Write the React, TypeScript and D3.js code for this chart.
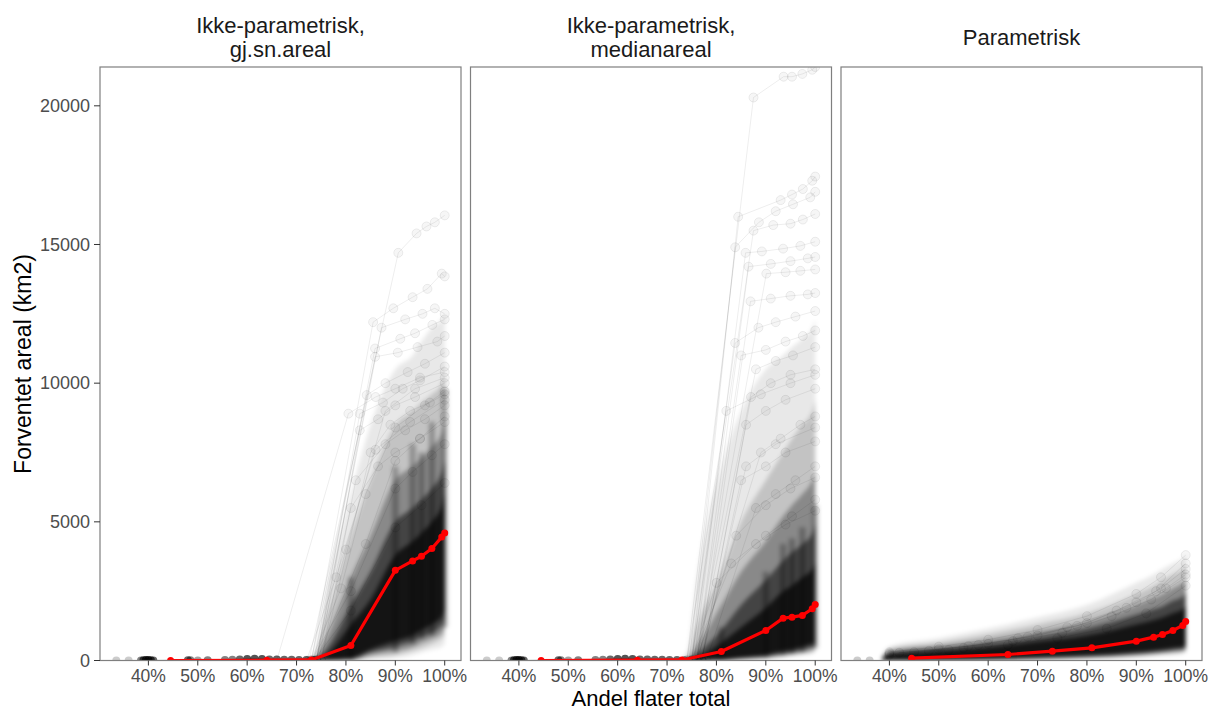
import React from "react";
import * as d3 from "d3";

const W = 1211;
const H = 711;
const fontFamily = "'Liberation Sans', Arial, Helvetica, sans-serif";

// layout
const panelLeft = [100, 470.5, 841];
const panelW = 361;
const panelTop = 67;
const panelBottom = 660.5;

// data
const xTicks = [40, 50, 60, 70, 80, 90, 100];
const yTicks = [0, 5000, 10000, 15000, 20000];

const titleGjsn = ["Ikke-parametrisk,", "gj.sn.areal"];
const titleMedian = ["Ikke-parametrisk,", "medianareal"];
const titleParam = ["Parametrisk"];

// red mean line
const meanX = [44.5, 64, 73, 81, 90, 93.5, 95.3, 97.4, 99.4, 100];
const meanGjsn = [0, 10, 20, 540, 3250, 3590, 3760, 4040, 4450, 4600];
const meanMedian = [0, 10, 20, 325, 1083, 1527, 1563, 1625, 1866, 2022];
const meanParam = [83, 217, 336, 458, 697, 841, 939, 1083, 1264, 1408];

// simulations that sit at ~0 before the jump
const baseX = [33.5, 36, 38.5, 39, 39.5, 40, 40.5, 41, 48, 48.5, 50, 52, 55.5, 57, 58.5, 60, 61.5, 63, 64.5, 66, 67.5, 69, 70.5, 72, 73.5];
const baseCountNonpar = [1, 1, 3, 5, 6, 6, 5, 4, 4, 3, 2, 3, 3, 3, 4, 5, 5, 5, 4, 4, 4, 4, 4, 4, 3];
const baseYNonpar = [0, 0, 0, 10, 20, 20, 10, 0, 10, 10, 0, 10, 20, 30, 40, 50, 60, 50, 40, 40, 30, 30, 20, 20, 10];
const baseXParam = [33.5, 36];
const baseCountParam = [1, 1];
const baseYParam = [0, 0];

// density of the simulation cloud: [low, high] per level, outer -> core
const bandXGjsn = [72, 73.5, 76, 81, 85, 90, 93.5, 95.3, 97.4, 99.4, 100];
const bandsGjsn = [
  [[0, 0, 0, 0, 50, 100, 200, 300, 400, 500, 600], [0, 200, 2500, 6000, 8500, 10500, 11000, 11500, 12000, 12300, 12500]],
  [[0, 0, 0, 0, 100, 200, 350, 450, 600, 800, 900], [0, 100, 1500, 4500, 6500, 8500, 9000, 9300, 9600, 10000, 10300]],
  [[0, 0, 0, 20, 200, 350, 500, 650, 800, 1000, 1200], [0, 50, 800, 3000, 4500, 6500, 7000, 7300, 7700, 8200, 8600]],
  [[0, 0, 0, 50, 300, 500, 700, 850, 1000, 1300, 1500], [0, 20, 400, 2000, 3200, 5000, 5500, 5800, 6200, 6800, 7200]],
  [[0, 0, 0, 80, 400, 700, 900, 1100, 1300, 1600, 1800], [0, 0, 200, 1300, 2200, 3800, 4300, 4600, 5000, 5600, 6000]],
];

const bandXMedian = [72, 74, 76, 81, 85, 90, 93.5, 95.3, 97.4, 99.4, 100];
const bandsMedian = [
  [[0, 0, 0, 0, 0, 50, 100, 150, 200, 250, 300], [0, 300, 3000, 7000, 9000, 10500, 11000, 11300, 11600, 12000, 12300]],
  [[0, 0, 0, 0, 30, 80, 150, 200, 250, 300, 350], [0, 100, 1200, 3200, 5000, 6500, 7500, 8000, 8500, 9000, 9400]],
  [[0, 0, 0, 0, 50, 100, 200, 250, 300, 400, 450], [0, 50, 500, 2000, 3200, 4300, 5200, 5600, 6000, 6500, 6800]],
  [[0, 0, 0, 10, 80, 150, 250, 300, 400, 500, 550], [0, 20, 250, 1100, 2000, 2900, 3600, 3900, 4200, 4600, 4900]],
  [[0, 0, 0, 20, 100, 200, 350, 400, 500, 600, 650], [0, 0, 100, 650, 1200, 1900, 2500, 2700, 3000, 3300, 3500]],
];

const bandXParam = [38.5, 40, 50, 60, 70, 80, 90, 93.5, 95.3, 97.4, 99.4, 100];
const bandsParam = [
  [[0, 0, 0, 0, 20, 50, 100, 150, 180, 200, 250, 280], [150, 500, 800, 1150, 1550, 2000, 2800, 3100, 3300, 3500, 3700, 3800]],
  [[0, 0, 0, 10, 40, 80, 150, 200, 230, 260, 300, 330], [120, 420, 650, 950, 1300, 1700, 2400, 2700, 2900, 3100, 3300, 3400]],
  [[0, 0, 0, 20, 60, 110, 200, 250, 280, 320, 360, 400], [100, 350, 520, 750, 1050, 1400, 2000, 2250, 2400, 2600, 2800, 2900]],
  [[0, 0, 10, 30, 80, 140, 250, 300, 330, 380, 420, 450], [80, 280, 420, 600, 850, 1150, 1650, 1850, 1950, 2150, 2300, 2450]],
  [[0, 10, 20, 50, 110, 180, 300, 360, 400, 450, 500, 530], [60, 220, 330, 470, 680, 900, 1300, 1450, 1550, 1700, 1850, 1950]],
];

// vertical streaks where many simulations share the same x
const streakX = [81, 90, 93.5, 95.3, 97.4, 100];
const streakGjsn = [[0, 3000], [300, 7000], [600, 7800], [800, 7500], [900, 8600], [1200, 9800]];
const streakMedian = [[0, 1200], [100, 3200], [200, 4200], [250, 4400], [300, 4800], [450, 5600]];
const streakParam: number[][] = [];

// single simulations that stand out above the cloud, [x %, km2]
const linesGjsn = [
  [[72.5, 0], [90.6, 14700], [94.3, 15400], [96.3, 15650], [98, 15800], [100, 16050]],
  [[73, 0], [85.5, 12200], [89.6, 12700], [93.5, 13100], [96.5, 13400], [99.4, 13950], [100, 13850]],
  [[74, 0], [87.2, 12000], [92, 12300], [95.5, 12500], [98, 12700], [100, 12500]],
  [[73.5, 0], [85.9, 11250], [91, 11600], [94, 11800], [97.5, 12100], [100, 12300]],
  [[74, 0], [85.9, 10950], [90.5, 11100], [94.5, 11300], [98.5, 11500], [100, 11700]],
  [[73, 0], [84.2, 9570], [88, 10000], [92.5, 10400], [96, 10700], [100, 11100]],
  [[74, 0], [82.8, 8900], [87.5, 9300], [91.5, 9800], [95, 10100], [100, 10600]],
  [[74.5, 0], [82.8, 8300], [86.5, 8700], [90, 9200], [94, 9500], [100, 10000]],
  [[75, 0], [85, 7500], [89, 8500], [93, 9000], [97, 9300], [100, 9600]],
  [[75, 0], [82, 6500], [88, 7800], [92, 8300], [96, 8700], [100, 9200]],
  [[74, 0], [81, 5500], [86.5, 7000], [90, 7500], [95, 8000], [100, 8600]],
  [[66, 0], [80.5, 8900], [86, 9500], [90, 9800], [95, 10200], [100, 10400]],
  [[73, 0], [81, 2500], [90, 6200], [93.5, 6800], [97.4, 7400], [100, 7800]],
  [[73.5, 0], [81, 1800], [90, 4800], [95.3, 5600], [100, 6400]],
  [[74, 0], [84, 4200], [90, 7200], [95, 8000], [100, 8800]],
  [[72, 0], [78, 3000], [86, 7600], [93, 8600], [100, 9400]],
  [[74, 0], [80, 4000], [88, 9000], [94, 9800], [100, 10200]],
  [[73, 0], [79, 2600], [84, 6000], [90, 8400], [96, 9200], [100, 9700]],
];

const linesMedian = [
  [[74, 0], [87.5, 20300], [93.6, 21050], [95.3, 21050], [97.4, 21150], [99.4, 21300], [100, 21400]],
  [[75, 0], [84.4, 16000], [93, 16600], [95.3, 16800], [97.5, 17000], [99.4, 17300], [100, 17450]],
  [[74.5, 0], [83.8, 14900], [88.6, 15800], [92, 16200], [95.5, 16450], [99, 16700], [100, 16900]],
  [[75, 0], [87.5, 15500], [91.5, 15700], [95, 15750], [97.5, 15900], [100, 16100]],
  [[75.5, 0], [85.9, 14700], [89.2, 14750], [93.5, 14850], [97, 14950], [100, 15100]],
  [[76, 0], [86.5, 14200], [91, 14300], [95, 14400], [98.5, 14500], [100, 14550]],
  [[76, 0], [90.1, 13950], [94, 14000], [97, 14050], [100, 14100]],
  [[76.5, 0], [86.9, 12950], [91, 13050], [95, 13150], [98.5, 13200], [100, 13250]],
  [[75, 0], [83.8, 11450], [88.5, 12000], [92, 12200], [96, 12400], [100, 12600]],
  [[76, 0], [85, 11000], [90, 11200], [94, 11500], [97.5, 11700], [100, 11900]],
  [[76, 0], [88, 10500], [92, 10800], [95.5, 11000], [100, 11300]],
  [[77, 0], [87, 9500], [91, 10000], [95, 10300], [100, 10500]],
  [[77, 0], [86, 8500], [90, 9000], [94, 9400], [100, 9800]],
  [[76, 0], [89, 7500], [93, 8000], [97, 8500], [100, 8800]],
  [[77, 0], [85, 6500], [90, 7000], [94, 7500], [100, 7900]],
  [[78, 0], [88, 5500], [92, 6000], [96, 6500], [100, 7000]],
  [[75, 0], [83, 3500], [90, 4500], [95.3, 5200], [100, 5800]],
  [[76, 0], [84, 4500], [90, 5600], [95, 6200], [100, 6600]],
  [[75, 0], [80, 2800], [88, 4200], [94, 4900], [100, 5400]],
  [[77, 0], [86, 7000], [92, 7800], [100, 8400]],
  [[74, 0], [82, 9000], [89, 9600], [95, 10000], [100, 10300]],
];

const linesParam = [
  [[40, 300], [50, 500], [60, 750], [70, 1100], [80, 1600], [90, 2400], [95, 3000], [100, 3800]],
  [[40, 250], [50, 400], [60, 600], [70, 900], [80, 1350], [90, 2100], [95, 2600], [100, 3300]],
  [[45, 300], [55, 450], [65, 700], [75, 1000], [85, 1600], [93, 2200], [100, 3000]],
  [[40, 200], [52, 380], [64, 560], [74, 800], [84, 1150], [92, 1700], [100, 2700]],
  [[48, 350], [58, 560], [68, 850], [78, 1250], [88, 1900], [96, 2600], [100, 3100]],
  [[42, 280], [56, 520], [66, 800], [76, 1200], [86, 1800], [94, 2500], [100, 3500]],
];

const panels = [
  { title: titleGjsn, mean: meanGjsn, bandX: bandXGjsn, bands: bandsGjsn, streak: streakGjsn, lines: linesGjsn, bx: baseX, bc: baseCountNonpar, by: baseYNonpar },
  { title: titleMedian, mean: meanMedian, bandX: bandXMedian, bands: bandsMedian, streak: streakMedian, lines: linesMedian, bx: baseX, bc: baseCountNonpar, by: baseYNonpar },
  { title: titleParam, mean: meanParam, bandX: bandXParam, bands: bandsParam, streak: streakParam, lines: linesParam, bx: baseXParam, bc: baseCountParam, by: baseYParam },
];

const bandOpacity = [0.09, 0.16, 0.3, 0.5, 0.7];

function Panel({ idx, p }: { idx: number; p: any }) {
  const left = panelLeft[idx];
  const x = d3.scaleLinear().domain([30.2, 103.3]).range([left, left + panelW]);
  const y = d3.scaleLinear().domain([0, 21400]).range([panelBottom, panelTop]);

  const line = d3
    .line<number[]>()
    .x((d) => x(d[0]))
    .y((d) => y(d[1]));

  const meanPts = meanX.map((v, i) => [v, p.mean[i]]);
  const basePts = p.bx.map((v: number, i: number) => [v, p.by[i]]);
  const clipId = `clip-${idx}`;
  const blurId = `soft-${idx}`;

  return (
    <g>
      <defs>
        <clipPath id={clipId}>
          <rect x={left} y={panelTop} width={panelW} height={panelBottom - panelTop} />
        </clipPath>
        <filter id={blurId} x="-5%" y="-5%" width="110%" height="110%">
          <feGaussianBlur stdDeviation="2.2" />
        </filter>
      </defs>
      <rect x={left} y={panelTop} width={panelW} height={panelBottom - panelTop} fill="#fff" />
      <g clipPath={`url(#${clipId})`}>
        {/* cloud of simulations */}
        <g filter={`url(#${blurId})`}>
          {p.bands.map((b: number[][], k: number) => {
            const ar = d3
              .area<number>()
              .x((_, i) => x(p.bandX[i]))
              .y0((_, i) => y(b[0][i]))
              .y1((_, i) => y(b[1][i]))
              .curve(d3.curveMonotoneX);
            return <path key={k} d={ar(b[0]) || ""} fill="#000" fillOpacity={bandOpacity[k]} />;
          })}
          {p.streak.map((s: number[], i: number) => (
            <rect
              key={i}
              x={x(streakX[i]) - 3}
              y={y(s[1])}
              width={6}
              height={y(s[0]) - y(s[1])}
              fill="#000"
              fillOpacity={0.28}
            />
          ))}
        </g>
        {/* baseline simulations near zero */}
        <path d={line(basePts) || ""} fill="none" stroke="#000" strokeOpacity={0.3} strokeWidth={1.2} />
        {basePts.map((d: number[], i: number) => (
          <circle
            key={i}
            cx={x(d[0])}
            cy={y(d[1])}
            r={4}
            fill="#000"
            fillOpacity={1 - Math.pow(0.8, p.bc[i])}
          />
        ))}
        {/* single simulation lines */}
        {p.lines.map((ln: number[][], k: number) => (
          <g key={k}>
            <path d={line(ln) || ""} fill="none" stroke="#000" strokeOpacity={0.07} strokeWidth={1} />
            {ln.map((d, j) => (
              <circle
                key={j}
                cx={x(d[0])}
                cy={y(d[1])}
                r={4.5}
                fill="#000"
                fillOpacity={0.035}
                stroke="#000"
                strokeOpacity={0.09}
                strokeWidth={0.8}
              />
            ))}
          </g>
        ))}
        {/* mean */}
        <path d={line(meanPts) || ""} fill="none" stroke="#f00" strokeWidth={3.2} strokeLinejoin="round" />
        {meanPts.map((d, i) => (
          <circle key={i} cx={x(d[0])} cy={y(d[1])} r={3.5} fill="#f00" />
        ))}
      </g>
      <rect
        x={left}
        y={panelTop}
        width={panelW}
        height={panelBottom - panelTop}
        fill="none"
        stroke="#7f7f7f"
        strokeWidth={1.2}
      />
      {/* x axis */}
      {xTicks.map((t) => (
        <g key={t}>
          <line x1={x(t)} x2={x(t)} y1={panelBottom} y2={panelBottom + 5} stroke="#333" strokeWidth={1} />
          <text x={x(t)} y={682} textAnchor="middle" fontSize={17.5} fill="#4d4d4d">
            {`${t}%`}
          </text>
        </g>
      ))}
      {/* y axis only on first panel */}
      {idx === 0 &&
        yTicks.map((t) => (
          <g key={t}>
            <line x1={left - 6} x2={left} y1={y(t)} y2={y(t)} stroke="#333" strokeWidth={1} />
            <text x={left - 10} y={y(t)} dy="0.35em" textAnchor="end" fontSize={18} fill="#4d4d4d">
              {t}
            </text>
          </g>
        ))}
      {/* facet title */}
      {p.title.map((s: string, i: number) => (
        <text
          key={i}
          x={left + panelW / 2}
          y={p.title.length === 2 ? 33 + i * 24 : 45}
          textAnchor="middle"
          fontSize={22}
          fill="#1a1a1a"
        >
          {s}
        </text>
      ))}
    </g>
  );
}

export default function App() {
  return (
    <svg
      width={W}
      height={H}
      style={{ position: "absolute", left: 0, top: 0, background: "#fff" }}
      fontFamily={fontFamily}
    >
      <rect width={W} height={H} fill="#fff" />
      {panels.map((p, i) => (
        <Panel key={i} idx={i} p={p} />
      ))}
      <text transform="translate(31,364) rotate(-90)" textAnchor="middle" fontSize={23} fill="#000">
        Forventet areal (km2)
      </text>
      <text x={651} y={706} textAnchor="middle" fontSize={22} fill="#000">
        Andel flater total
      </text>
    </svg>
  );
}
